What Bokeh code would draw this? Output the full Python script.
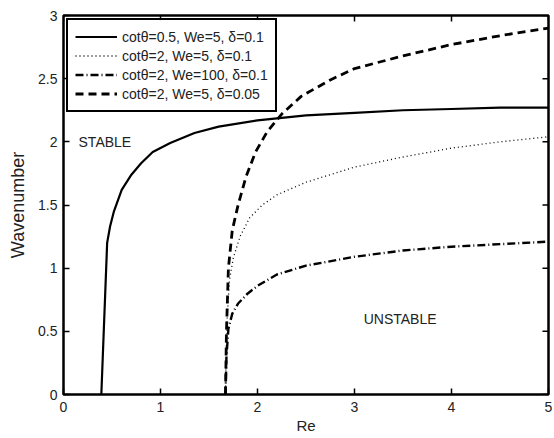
import math
from bokeh.plotting import figure
from bokeh.models import (FixedTicker, NumeralTickFormatter, Legend, LegendItem, Label, Range1d)
from bokeh.embed import file_html
from bokeh.resources import INLINE

# Data
re_a = [0.39, 0.45, 0.48, 0.52, 0.60, 0.70, 0.80, 0.92, 1.10, 1.35, 1.60, 2.00, 2.50, 3.00, 3.50, 4.00, 4.50, 5.00]
k_a = [0.0, 1.20, 1.33, 1.45, 1.62, 1.74, 1.83, 1.92, 1.99, 2.07, 2.12, 2.17, 2.21, 2.23, 2.25, 2.26, 2.27, 2.27]

re_b = [1.67, 1.68, 1.71, 1.75, 1.82, 1.92, 2.05, 2.20, 2.50, 3.00, 3.50, 4.00, 4.50, 5.00]
k_b = [0.0, 0.50, 0.90, 1.08, 1.25, 1.40, 1.50, 1.58, 1.68, 1.80, 1.88, 1.95, 2.00, 2.04]

re_c = [1.67, 1.68, 1.70, 1.74, 1.80, 1.90, 2.00, 2.20, 2.50, 3.00, 3.50, 4.00, 4.50, 5.00]
k_c = [0.0, 0.30, 0.52, 0.64, 0.72, 0.80, 0.86, 0.95, 1.02, 1.09, 1.14, 1.17, 1.19, 1.21]

re_d = [1.67, 1.68, 1.70, 1.74, 1.80, 1.88, 1.98, 2.10, 2.25, 2.45, 2.75, 3.00, 3.50, 4.00, 4.50, 5.00]
k_d = [0.0, 0.50, 1.00, 1.30, 1.50, 1.72, 1.92, 2.08, 2.22, 2.36, 2.49, 2.58, 2.68, 2.77, 2.84, 2.90]

labels = ["cot\u03b8=0.5, We=5, \u03b4=0.1",
          "cot\u03b8=2, We=5, \u03b4=0.1",
          "cot\u03b8=2, We=100, \u03b4=0.1",
          "cot\u03b8=2, We=5, \u03b4=0.05"]

x_ticks = [0, 1, 2, 3, 4, 5]
y_ticks = [0, 0.5, 1, 1.5, 2, 2.5, 3]

FONT = "Liberation Sans"
TXT = "#222222"

p = figure(width=554, height=438, output_backend="svg", toolbar_location=None,
           x_range=Range1d(x_ticks[0], x_ticks[-1]), y_range=Range1d(y_ticks[0], y_ticks[-1]),
           min_border_left=63, min_border_right=6, min_border_top=15, min_border_bottom=44)
p.xgrid.visible = False
p.ygrid.visible = False
p.outline_line_color = "black"
p.outline_line_width = 2.5
p.outline_line_alpha = 1

for ax in (p.xaxis[0], p.yaxis[0]):
    ax.major_tick_in = 6
    ax.major_tick_out = 0
    ax.minor_tick_line_color = None
    ax.axis_line_color = None
    ax.major_tick_line_color = "black"
    ax.major_tick_line_width = 1.5
    ax.major_label_text_font = FONT
    ax.major_label_text_font_size = "14px"
    ax.major_label_text_color = TXT
    ax.axis_label_text_font = FONT
    ax.axis_label_text_font_style = "normal"
    ax.axis_label_text_color = TXT

p.xaxis[0].ticker = FixedTicker(ticks=x_ticks)
p.yaxis[0].ticker = FixedTicker(ticks=y_ticks)
p.yaxis[0].formatter = NumeralTickFormatter(format="0.[0]")
p.xaxis[0].formatter = NumeralTickFormatter(format="0")
p.xaxis[0].axis_label = "Re"
p.yaxis[0].axis_label = "Wavenumber"
p.xaxis[0].axis_label_text_font_size = "15px"
p.yaxis[0].axis_label_text_font_size = "18px"
p.xaxis[0].major_label_standoff = 7
p.xaxis[0].axis_label_standoff = 2
p.yaxis[0].major_label_standoff = 6
p.yaxis[0].axis_label_standoff = 7

# mirrored inward ticks on the top and right edges
p.ray(x=x_ticks, y=[y_ticks[-1]] * len(x_ticks), length=6, length_units="screen",
      angle=-math.pi / 2, line_color="black", line_width=1.5)
p.ray(x=[x_ticks[-1]] * len(y_ticks), y=y_ticks, length=6, length_units="screen",
      angle=math.pi, line_color="black", line_width=1.5)

r1 = p.line(re_a, k_a, line_color="black", line_width=2.2)
r2 = p.line(re_b, k_b, line_color="black", line_width=1.3, line_dash="1 3")
r3 = p.line(re_c, k_c, line_color="black", line_width=2.4, line_dash="8 3 1 3")
r4 = p.line(re_d, k_d, line_color="black", line_width=2.8, line_dash="8 5")

legend = Legend(items=[LegendItem(label=labels[0], renderers=[r1]),
                       LegendItem(label=labels[1], renderers=[r2]),
                       LegendItem(label=labels[2], renderers=[r3]),
                       LegendItem(label=labels[3], renderers=[r4])],
                location="top_left")
legend.border_line_color = "black"
legend.border_line_width = 2.5
legend.border_line_alpha = 1
legend.label_text_font = FONT
legend.label_text_font_size = "14px"
legend.label_text_color = TXT
legend.glyph_width = 42
legend.glyph_height = 19
legend.label_height = 19
legend.spacing = 0
legend.padding = 7
legend.margin = 3
legend.label_standoff = 5
p.add_layout(legend)

p.add_layout(Label(x=0.155, y=2.0, text="STABLE", text_font=FONT, text_font_size="14px",
                   text_color=TXT, text_baseline="middle"))
p.add_layout(Label(x=3.47, y=0.6, text="UNSTABLE", text_font=FONT, text_font_size="14px",
                   text_color=TXT, text_baseline="middle", text_align="center"))

open("out.html", "w").write(file_html(p, INLINE))
